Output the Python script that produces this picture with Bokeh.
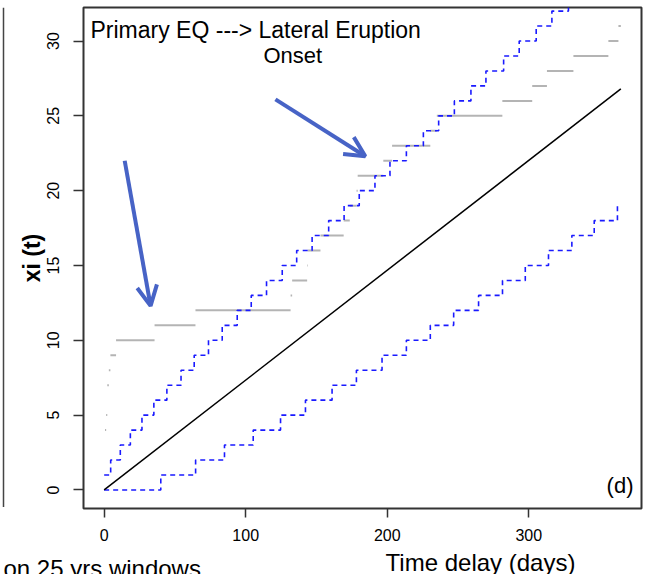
from bokeh.plotting import figure
from bokeh.layouts import column, row
from bokeh.models import Range1d, Label, Arrow, OpenHead, FixedTicker
from bokeh.core.properties import value
from bokeh.embed import file_html
from bokeh.resources import INLINE

# ---------------- data ----------------
# observed cumulative number of events xi(t): level held from its start time to the next start
count_levels = list(range(4, 32))
count_start = [0.6, 1.4, 2.2, 2.2, 3.3, 4.4, 8.4, 35.6, 64.5, 131.7, 132.8, 143.4,
               143.8, 152.8, 169.2, 173.5, 178.3, 179.1, 197.2, 203.4, 230.4, 235.0,
               281.3, 302.4, 312.8, 331.5, 356.2, 363.3]
window_end = 365.0

# upper confidence bound (step function)
upper_times = [0, 4.6, 11.4, 18.5, 26.7, 35.1, 44.3, 54.3, 63.6, 73.7, 83.4, 94.0,
               103.9, 114.7, 125.8, 136.0, 146.9, 158.6, 169.5, 180.2, 191.3, 201.9,
               213.5, 225.5, 236.3, 247.4, 259.1, 269.7, 282.2, 293.2, 305.2, 316.3, 328.0]
upper_levels = list(range(1, 34))

# lower confidence bound (step function)
lower_times = [0, 40.0, 64.6, 85.0, 105.3, 124.6, 142.2, 161.0, 178.2, 196.3, 213.5,
               230.4, 246.9, 264.5, 281.4, 297.5, 313.9, 330.4, 346.2, 362.6]
lower_levels = list(range(0, 20))

# expected (mean rate) line
expected_x = [0, 365]
expected_y = [0, 26.8]

# annotation arrows (data coordinates)
arrow_x_start = [14.5, 121.0]
arrow_y_start = [22.0, 26.1]
arrow_x_end = [32.8, 184.5]
arrow_y_end = [12.3, 22.3]

x_ticks = [0, 100, 200, 300]
y_ticks = [0, 5, 10, 15, 20, 25, 30]

FONT = "Liberation Sans"
W, H = 653, 574
EDGE_W = 5          # strip holding the edge of the neighbouring (cropped) panel
MAIN_H = 548        # main figure height; the rest is the footer strip
FOOT_H = H - MAIN_H
BASE_FIX = -8       # baseline correction of the rendered texts

# ---------------- main panel ----------------
p = figure(width=W - EDGE_W, height=MAIN_H, output_backend="svg", toolbar_location=None,
           x_range=Range1d(-14.6, 379.6), y_range=Range1d(-1.24, 32.24),
           min_border_left=83 - EDGE_W, min_border_right=12, min_border_top=7,
           min_border_bottom=MAIN_H - 508)
p.background_fill_color = "white"
p.border_fill_color = "white"
p.outline_line_color = "#333333"
p.outline_line_width = 2
p.xgrid.visible = False
p.ygrid.visible = False

for ax in (p.xaxis[0], p.yaxis[0]):
    ax.axis_line_color = None
    ax.major_tick_in = 0
    ax.major_tick_out = 9
    ax.major_tick_line_color = "#333333"
    ax.major_tick_line_width = 1.5
    ax.minor_tick_line_color = None
    ax.major_label_text_font = FONT
    ax.major_label_text_font_size = "16px"
    ax.major_label_text_color = "black"

p.xaxis[0].ticker = FixedTicker(ticks=x_ticks)
p.yaxis[0].ticker = FixedTicker(ticks=y_ticks)
p.xaxis[0].major_label_standoff = 11
p.yaxis[0].major_tick_out = 10
p.yaxis[0].major_label_standoff = 14
p.yaxis[0].major_label_orientation = "vertical"
p.yaxis[0].axis_label = "xi (t)"
p.yaxis[0].axis_label_text_font = FONT
p.yaxis[0].axis_label_text_color = "black"
p.yaxis[0].axis_label_text_font_size = "23px"
p.yaxis[0].axis_label_text_font_style = "bold"
p.yaxis[0].axis_label_standoff = 0

# grey observed counts
seg_x1 = count_start[1:] + [window_end]
p.segment(x0=count_start, y0=count_levels, x1=seg_x1, y1=count_levels,
          line_color="#b4b4b4", line_width=2)

# blue dashed bounds
p.step(upper_times, upper_levels, mode="after", line_color="#1a1aff",
       line_width=1.6, line_dash="5 4")
p.step(lower_times + [window_end], lower_levels + [lower_levels[-1]], mode="after",
       line_color="#1a1aff", line_width=1.6, line_dash="5 4")

# expected line
p.line(expected_x, expected_y, line_color="black", line_width=1.5)

# arrows
ARROW_C = "#4763c6"
for xs, ys, xe, ye in zip(arrow_x_start, arrow_y_start, arrow_x_end, arrow_y_end):
    p.add_layout(Arrow(x_start=xs, y_start=ys, x_end=xe, y_end=ye,
                       line_color=ARROW_C, line_width=4,
                       end=OpenHead(size=20, line_color=ARROW_C, line_width=4)))

# texts inside the panel
p.add_layout(Label(x=90 - EDGE_W, y=37.5 + BASE_FIX, x_units="canvas", y_units="canvas",
                   text="Primary EQ ---> Lateral Eruption", text_font=FONT,
                   text_color="black", text_font_size="23px",
                   text_baseline="alphabetic", text_align="left"))
p.add_layout(Label(x=263 - EDGE_W, y=62.7 + BASE_FIX, x_units="canvas", y_units="canvas",
                   text="Onset", text_font=FONT, text_color="black",
                   text_font_size="22px", text_baseline="alphabetic", text_align="left"))
p.add_layout(Label(x=633 - EDGE_W, y=493 + BASE_FIX, x_units="canvas", y_units="canvas",
                   text="(d)", text_font=FONT, text_color="black",
                   text_font_size="22px", text_baseline="alphabetic", text_align="right"))

# ---------------- left strip: edge of the neighbouring (cropped) panel ----------------
# (its frame is aligned with the main frame by the row layout)
p0 = figure(width=EDGE_W, height=MAIN_H, output_backend="svg", toolbar_location=None,
            x_range=Range1d(0, EDGE_W), y_range=p.y_range,
            x_axis_type=None, y_axis_type=None,
            min_border_left=0, min_border_right=0, min_border_top=0, min_border_bottom=0)
p0.outline_line_color = None
p0.background_fill_color = "white"
p0.border_fill_color = "white"
p0.xgrid.visible = False
p0.ygrid.visible = False
p0.segment(x0=[3], y0=[p.y_range.end], x1=[3], y1=[p.y_range.start + 0.1],
           line_color="#444444", line_width=1.5)

# ---------------- footer strip: x-axis title and cropped neighbour title ----------------
p2 = figure(width=W, height=FOOT_H, output_backend="svg", toolbar_location=None,
            x_range=Range1d(0, W), y_range=Range1d(FOOT_H, 0),
            x_axis_type=None, y_axis_type=None,
            min_border_left=0, min_border_right=0, min_border_top=0, min_border_bottom=0)
p2.outline_line_color = None
p2.background_fill_color = "white"
p2.border_fill_color = "white"
p2.xgrid.visible = False
p2.ygrid.visible = False
p2.text(x=[480], y=[0], y_offset=570 - MAIN_H + BASE_FIX, text=["Time delay (days)"],
        text_font=value(FONT), text_font_size="24px", text_color="black",
        text_align="center", text_baseline="alphabetic")
p2.text(x=[3], y=[0], y_offset=576 - MAIN_H + BASE_FIX, text=["on 25 yrs windows"],
        text_font=value(FONT), text_font_size="24px", text_color="black",
        text_align="left", text_baseline="alphabetic")

layout = column(row(p0, p, spacing=0), p2, spacing=0)
open("out.html", "w").write(file_html(layout, INLINE))
